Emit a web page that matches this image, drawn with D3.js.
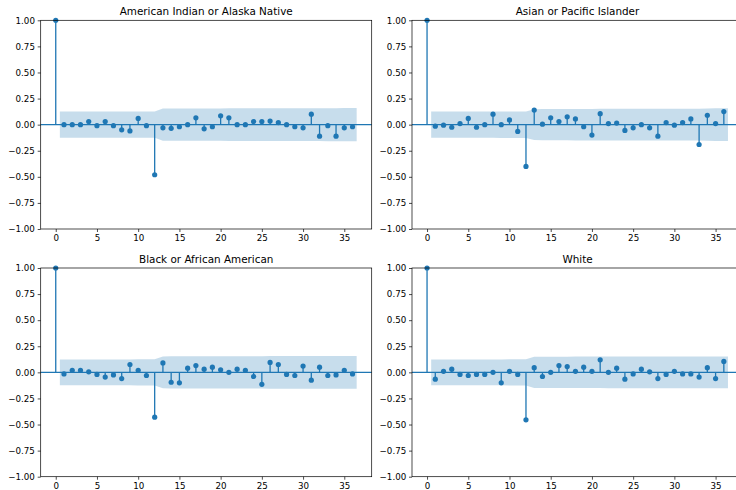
<!DOCTYPE html>
<html>
<head>
<meta charset="utf-8">
<script src="https://cdn.jsdelivr.net/npm/d3@7"></script>
<style>
    body { margin: 0; background: #fff; }
    text { font-family: "DejaVu Sans", sans-serif; }
</style>
</head>
<body>
<svg id="chart"></svg>
<script>
// autocorrelation values, lag 0 .. 36
let lags = d3.range(0, 37)

let titles = ['American Indian or Alaska Native', 'Asian or Pacific Islander', 'Black or African American', 'White']

let acfIndian = [1, 0.00, 0.00, 0.00, 0.03, -0.01, 0.03, -0.01, -0.05, -0.06, 0.06, -0.01, -0.48,
    -0.03, -0.035, -0.02, 0.00, 0.065, -0.04, -0.02, 0.085, 0.065, 0.00, 0.00, 0.03,
    0.03, 0.035, 0.02, 0.00, -0.02, -0.03, 0.10, -0.11, -0.01, -0.11, -0.03, -0.02]

let acfAsian = [1, -0.015, -0.005, -0.025, 0.01, 0.06, -0.025, 0.00, 0.10, 0.00, 0.045, -0.065, -0.40,
    0.14, 0.005, 0.065, 0.03, 0.075, 0.055, -0.02, -0.10, 0.105, 0.01, 0.015, -0.055,
    -0.03, 0.00, -0.03, -0.11, 0.02, -0.005, 0.02, 0.055, -0.19, 0.09, 0.01, 0.125]

let acfBlack = [1, -0.015, 0.02, 0.02, 0.005, -0.02, -0.045, -0.025, -0.06, 0.075, 0.02, -0.03, -0.43,
    0.09, -0.095, -0.10, 0.04, 0.065, 0.03, 0.05, 0.025, 0.00, 0.03, 0.02, -0.04,
    -0.115, 0.095, 0.075, -0.02, -0.03, 0.06, -0.075, 0.05, -0.03, -0.025, 0.02, -0.015]

let acfWhite = [1, -0.065, 0.01, 0.03, -0.02, -0.03, -0.02, -0.02, 0.00, -0.10, 0.01, -0.02, -0.455,
    0.045, -0.04, 0.00, 0.065, 0.055, 0.01, 0.05, 0.01, 0.12, 0.00, 0.04, -0.065,
    -0.015, 0.03, 0.005, -0.06, -0.02, 0.01, -0.015, -0.015, -0.045, 0.045, -0.06, 0.105]

// half width of the confidence band, lag 1 .. 36
let bandIndian = [0.126, 0.126, 0.126, 0.126, 0.126, 0.126, 0.126, 0.126, 0.126, 0.126, 0.126, 0.126,
    0.154, 0.155, 0.155, 0.155, 0.155, 0.155, 0.155, 0.155, 0.156, 0.156, 0.156, 0.156,
    0.156, 0.156, 0.156, 0.156, 0.156, 0.156, 0.156, 0.157, 0.158, 0.158, 0.159, 0.159]

let bandAsian = [0.126, 0.126, 0.126, 0.126, 0.126, 0.126, 0.126, 0.126, 0.127, 0.127, 0.127, 0.127,
    0.148, 0.150, 0.150, 0.150, 0.150, 0.151, 0.151, 0.151, 0.152, 0.152, 0.152, 0.152,
    0.152, 0.152, 0.152, 0.152, 0.153, 0.153, 0.153, 0.153, 0.153, 0.155, 0.156, 0.156]

let bandBlack = [0.124, 0.124, 0.124, 0.124, 0.124, 0.124, 0.124, 0.124, 0.124, 0.125, 0.125, 0.125,
    0.153, 0.154, 0.154, 0.155, 0.155, 0.155, 0.155, 0.155, 0.155, 0.155, 0.155, 0.155,
    0.155, 0.156, 0.156, 0.157, 0.157, 0.157, 0.157, 0.157, 0.157, 0.157, 0.157, 0.157]

let bandWhite = [0.124, 0.124, 0.124, 0.124, 0.124, 0.124, 0.124, 0.124, 0.124, 0.125, 0.125, 0.125,
    0.150, 0.150, 0.150, 0.150, 0.150, 0.151, 0.151, 0.151, 0.151, 0.152, 0.152, 0.152,
    0.152, 0.152, 0.152, 0.152, 0.153, 0.153, 0.153, 0.153, 0.153, 0.153, 0.153, 0.153]

let xTicks = [0, 5, 10, 15, 20, 25, 30, 35]
let yTicks = [-1, -0.75, -0.5, -0.25, 0, 0.25, 0.5, 0.75, 1]

let panels = [
    {title: titles[0], acf: acfIndian, band: bandIndian, left: 40.7, top: 20.3},
    {title: titles[1], acf: acfAsian, band: bandAsian, left: 412, top: 20.3},
    {title: titles[2], acf: acfBlack, band: bandBlack, left: 40.7, top: 268},
    {title: titles[3], acf: acfWhite, band: bandWhite, left: 412, top: 268}
]

let width = 736
let height = 490
let panelW = 331
let panelH = 208.7
let blue = '#1f77b4'

let svg = d3.select('#chart')
    .attr('width', width)
    .attr('height', height)

let drawPanel = (p) => {
    let xScale = d3.scaleLinear()
        .domain([-1.825, 38.325])
        .range([0, panelW])
    let yScale = d3.scaleLinear()
        .domain([-1, 1])
        .range([panelH, 0])

    let g = svg.append('g')
        .attr('transform', 'translate(' + p.left + ',' + p.top + ')')

    // band x positions: first and last lag pushed out by half a step
    let bandPts = p.band.map((b, i) => {
        let lag = i + 1
        if (lag == 1) lag = 0.5
        if (lag == 36) lag = 36.5
        return {x: lag, b: b}
    })
    let area = d3.area()
        .x(d => xScale(d.x))
        .y0(d => yScale(-d.b))
        .y1(d => yScale(d.b))

    g.append('path')
        .datum(bandPts)
        .attr('d', area)
        .attr('fill', blue)
        .attr('fill-opacity', 0.25)

    g.selectAll('line.stem')
        .data(lags)
        .enter()
        .append('line')
        .attr('class', 'stem')
        .attr('x1', d => xScale(d))
        .attr('x2', d => xScale(d))
        .attr('y1', yScale(0))
        .attr('y2', d => yScale(p.acf[d]))
        .attr('stroke', blue)
        .attr('stroke-width', 1.3)

    g.append('line')
        .attr('x1', 0)
        .attr('x2', panelW)
        .attr('y1', yScale(0))
        .attr('y2', yScale(0))
        .attr('stroke', blue)
        .attr('stroke-width', 1.3)

    g.selectAll('circle')
        .data(lags)
        .enter()
        .append('circle')
        .attr('cx', d => xScale(d))
        .attr('cy', d => yScale(p.acf[d]))
        .attr('r', 2.6)
        .attr('fill', blue)

    let xAxis = d3.axisBottom(xScale)
        .tickValues(xTicks)
        .tickSizeInner(3)
        .tickSizeOuter(0)
        .tickPadding(2.8)
        .tickFormat(d3.format('d'))
    let yAxis = d3.axisLeft(yScale)
        .tickValues(yTicks)
        .tickSizeInner(3)
        .tickSizeOuter(0)
        .tickPadding(2.8)
        .tickFormat(d3.format('.2f'))

    let xg = g.append('g')
        .attr('transform', 'translate(0,' + panelH + ')')
        .call(xAxis)
    let yg = g.append('g')
        .call(yAxis)

    ;[xg, yg].forEach(a => {
        a.select('.domain').remove()
        a.selectAll('line').attr('stroke', '#000').attr('stroke-width', 0.7)
        a.selectAll('text').attr('font-size', '8.7px').attr('fill', '#000')
            .attr('font-family', '"DejaVu Sans", sans-serif')
    })

    // frame
    g.append('rect')
        .attr('width', panelW)
        .attr('height', panelH)
        .attr('fill', 'none')
        .attr('stroke', '#000')
        .attr('stroke-width', 0.7)

    g.append('text')
        .attr('x', panelW / 2)
        .attr('y', -5.2)
        .attr('text-anchor', 'middle')
        .attr('font-size', '10.4px')
        .attr('fill', '#000')
        .text(p.title)
}

panels.forEach(drawPanel)
</script>
</body>
</html>
